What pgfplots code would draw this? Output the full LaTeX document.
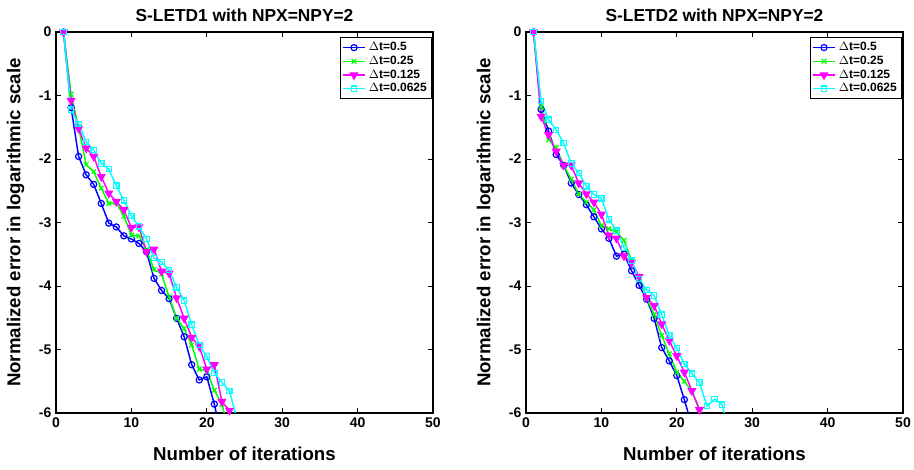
\documentclass[border=0pt]{standalone}
\usepackage{fontspec}
\setmainfont{Liberation Sans}
\usepackage{pgfplots}
\pgfplotsset{compat=1.18}

\definecolor{mblue}{RGB}{0,0,255}
\definecolor{mgreen}{RGB}{0,255,0}
\definecolor{mmag}{RGB}{255,0,255}
\definecolor{mcyan}{RGB}{0,255,255}

\pgfplotsset{
  errplot/.style={
    scale only axis,
    width=282.75pt, height=285.75pt,
    xmin=0, xmax=50, ymin=-6, ymax=0,
    xtick={0,10,20,30,40,50},
    ytick={-6,-5,-4,-3,-2,-1,0},
    tick align=inside,
    major tick length=4pt,
    axis line style={line width=0.8pt},
    tick style={line width=0.6pt,black},
    /pgf/number format/assume math mode=true,
    tick label style={font=\fontsize{10.5}{12}\selectfont\bfseries},
    label style={font=\fontsize{14}{16}\selectfont\bfseries},
    title style={font=\fontsize{13}{15}\selectfont\bfseries, yshift=-2pt},
    xlabel={Number of iterations},
    ylabel={Normalized error in logarithmic scale},
    xlabel style={yshift=-8pt},
    ylabel style={yshift=4pt},
    legend style={at={(0.997,0.986)}, anchor=north east, draw=black,
      line width=0.6pt, font=\fontsize{9}{10.5}\selectfont\bfseries,
      inner sep=1.5pt, row sep=-1.5pt},
    legend cell align=left,
    legend image post style={line width=1.1pt},
    every axis plot/.append style={line width=1.1pt},
  },
  sblue/.style={color=mblue, mark=o, mark size=2.3pt, mark options={line width=0.9pt}},
  sgreen/.style={color=mgreen, mark=x, mark size=2.5pt, mark options={line width=0.9pt}},
  smag/.style={color=mmag, mark=triangle*, mark size=2.9pt, mark options={rotate=180}},
  scyan/.style={color=mcyan, mark=square, mark size=2pt, mark options={line width=0.9pt}},
}

\begin{document}
\begin{tikzpicture}
\useasboundingbox (-42pt,-42.75pt) rectangle (643.5pt,309.75pt);

\begin{axis}[errplot, at={(0pt,0pt)}, anchor=south west,
  title={S-LETD1 with NPX=NPY=2}]
\addplot[sblue] coordinates {
  (1,0) (2,-1.19) (3,-1.96) (4,-2.25) (5,-2.40) (6,-2.70) (7,-3.01) (8,-3.07)
  (9,-3.21) (10,-3.26) (11,-3.33) (12,-3.46) (13,-3.88) (14,-4.07) (15,-4.20)
  (16,-4.51) (17,-4.80) (18,-5.24) (19,-5.48) (20,-5.43) (21,-5.86) (22,-6.40)
};
\addlegendentry{{\mdseries$\Delta$}t=0.5}
\addplot[sgreen] coordinates {
  (1,0) (2,-0.98) (3,-1.50) (4,-2.09) (5,-2.20) (6,-2.46) (7,-2.70) (8,-2.69)
  (9,-2.90) (10,-3.20) (11,-3.21) (12,-3.43) (13,-3.74) (14,-3.81) (15,-4.17)
  (16,-4.51) (17,-4.67) (18,-4.93) (19,-5.31) (20,-5.34) (21,-5.64) (22,-5.86)
  (23,-6.30)
};
\addlegendentry{{\mdseries$\Delta$}t=0.25}
\addplot[smag] coordinates {
  (1,0) (2,-1.08) (3,-1.52) (4,-1.83) (5,-1.96) (6,-2.28) (7,-2.54) (8,-2.67)
  (9,-2.80) (10,-3.08) (11,-3.07) (12,-3.46) (13,-3.42) (14,-3.77) (15,-3.80)
  (16,-4.19) (17,-4.51) (18,-4.81) (19,-4.95) (20,-5.31) (21,-5.24) (22,-5.82)
  (23,-5.96) (24,-6.30)
};
\addlegendentry{{\mdseries$\Delta$}t=0.125}
\addplot[scyan] coordinates {
  (1,0) (2,-1.22) (3,-1.45) (4,-1.73) (5,-1.86) (6,-2.07) (7,-2.16) (8,-2.42)
  (9,-2.65) (10,-2.90) (11,-3.06) (12,-3.26) (13,-3.56) (14,-3.62) (15,-3.75)
  (16,-4.02) (17,-4.23) (18,-4.61) (19,-4.93) (20,-5.11) (21,-5.37) (22,-5.52)
  (23,-5.65) (24,-6.10)
};
\addlegendentry{{\mdseries$\Delta$}t=0.0625}
\end{axis}

\begin{axis}[errplot, at={(352.5pt,0pt)}, anchor=south west,
  title={S-LETD2 with NPX=NPY=2}]
\addplot[sblue] coordinates {
  (1,0) (2,-1.22) (3,-1.56) (4,-1.93) (5,-2.10) (6,-2.38) (7,-2.56) (8,-2.72)
  (9,-2.91) (10,-3.10) (11,-3.25) (12,-3.53) (13,-3.50) (14,-3.76) (15,-3.99)
  (16,-4.21) (17,-4.51) (18,-4.97) (19,-5.18) (20,-5.41) (21,-5.79) (22,-6.20)
};
\addlegendentry{{\mdseries$\Delta$}t=0.5}
\addplot[sgreen] coordinates {
  (1,0) (2,-1.18) (3,-1.70) (4,-1.82) (5,-2.10) (6,-2.32) (7,-2.55) (8,-2.68)
  (9,-2.80) (10,-3.05) (11,-3.10) (12,-3.15) (13,-3.28) (14,-3.60) (15,-3.90)
  (16,-4.20) (17,-4.45) (18,-4.78) (19,-5.07) (20,-5.36) (21,-5.50) (22,-5.66)
  (23,-5.94) (24,-6.20)
};
\addlegendentry{{\mdseries$\Delta$}t=0.25}
\addplot[smag] coordinates {
  (1,0) (2,-1.33) (3,-1.62) (4,-1.88) (5,-2.10) (6,-2.10) (7,-2.38) (8,-2.55)
  (9,-2.68) (10,-2.87) (11,-3.20) (12,-3.25) (13,-3.53) (14,-3.63) (15,-3.85)
  (16,-4.18) (17,-4.31) (18,-4.60) (19,-4.86) (20,-5.10) (21,-5.36) (22,-5.65)
  (23,-5.95) (24,-6.30)
};
\addlegendentry{{\mdseries$\Delta$}t=0.125}
\addplot[scyan] coordinates {
  (1,0) (2,-1.09) (3,-1.38) (4,-1.54) (5,-1.75) (6,-2.07) (7,-2.22) (8,-2.43)
  (9,-2.56) (10,-2.62) (11,-2.95) (12,-3.13) (13,-3.40) (14,-3.60) (15,-3.89)
  (16,-4.06) (17,-4.15) (18,-4.45) (19,-4.78) (20,-4.98) (21,-5.23) (22,-5.38)
  (23,-5.52) (24,-5.89) (25,-5.78) (26,-5.87) (27,-6.30)
};
\addlegendentry{{\mdseries$\Delta$}t=0.0625}
\end{axis}
\end{tikzpicture}
\end{document}
